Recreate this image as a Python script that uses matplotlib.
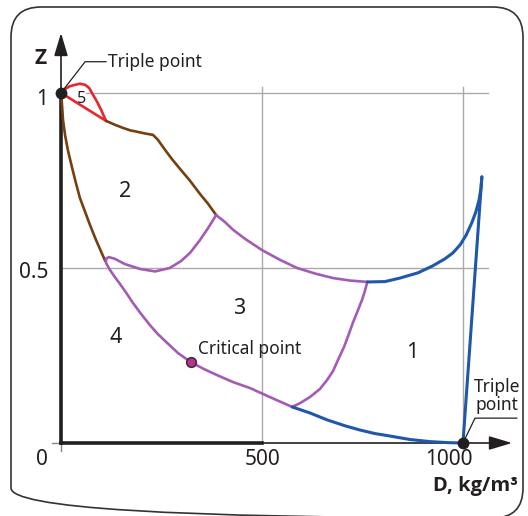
import matplotlib
matplotlib.use("Agg")
import matplotlib.pyplot as plt
from matplotlib.patches import FancyBboxPatch

plt.rcParams["font.family"] = ["Noto Sans", "DejaVu Sans"]

# density D (kg/m3) and compressibility Z
red_dome_d = [0, 10, 22, 35, 47, 60, 70, 80, 90, 100, 112]
red_dome_z = [1.0, 1.011, 1.019, 1.023, 1.026, 1.023, 1.014, 0.994, 0.974, 0.951, 0.92]
red_chord_d = [0, 112]
red_chord_z = [1.0, 0.92]

brown_top_d = [112, 134, 154, 172, 189, 209, 229, 241, 259, 276, 296, 321, 346, 366, 386]
brown_top_z = [0.92, 0.909, 0.9, 0.893, 0.889, 0.884, 0.88, 0.866, 0.837, 0.811, 0.783, 0.749, 0.711, 0.683, 0.651]
brown_left_d = [0, 2.5, 5, 10, 17, 27, 37, 47, 60, 72, 87, 100, 110]
brown_left_z = [1.0, 0.966, 0.923, 0.88, 0.837, 0.789, 0.743, 0.7, 0.66, 0.623, 0.58, 0.546, 0.52]

purple_valley_d = [386, 366, 346, 321, 299, 271, 234, 197, 159, 134, 119, 112]
purple_valley_z = [0.651, 0.614, 0.58, 0.543, 0.52, 0.5, 0.49, 0.497, 0.511, 0.526, 0.531, 0.526]
purple_liquid_d = [112, 112, 122, 134, 147, 164, 179, 199, 221, 241, 264, 291, 323, 356, 388, 428, 470, 520, 575]
purple_liquid_z = [0.526, 0.514, 0.494, 0.474, 0.454, 0.426, 0.4, 0.369, 0.337, 0.311, 0.286, 0.257, 0.231, 0.211, 0.194, 0.174, 0.157, 0.131, 0.103]
purple_upper_d = [386, 408, 428, 458, 500, 545, 587, 632, 677, 719, 762]
purple_upper_z = [0.651, 0.631, 0.609, 0.583, 0.551, 0.523, 0.5, 0.484, 0.471, 0.464, 0.46]
purple_right_d = [575, 595, 619, 644, 662, 677, 689, 704, 716, 726, 739, 749, 756, 762]
purple_right_z = [0.103, 0.114, 0.131, 0.154, 0.18, 0.206, 0.237, 0.274, 0.311, 0.343, 0.38, 0.409, 0.434, 0.46]

blue_bottom_d = [575, 619, 662, 707, 744, 781, 818, 868, 918, 963, 1000]
blue_bottom_z = [0.103, 0.086, 0.066, 0.049, 0.037, 0.027, 0.02, 0.01, 0.004, 0.001, 0.0]
blue_top_d = [762, 806, 843, 888, 925, 955, 975, 993, 1008, 1022, 1032, 1040, 1045, 1047]
blue_top_z = [0.46, 0.461, 0.471, 0.486, 0.506, 0.526, 0.543, 0.566, 0.594, 0.629, 0.66, 0.694, 0.729, 0.76]
blue_steep_d = [1000, 1047]
blue_steep_z = [0.0, 0.76]

triple_d = [0, 1000]
triple_z = [1.0, 0.0]
critical_d = [323]
critical_z = [0.231]

x_ticks = [500, 1000]
y_ticks = [0.5, 1.0]
region_labels = ["1", "2", "3", "4", "5"]

RED = "#e8262b"
BROWN = "#75400f"
PURPLE = "#a35bb3"
BLUE = "#1f58a8"
GRID = "#aaaaaa"
INK = "#231f20"
BOLD_FONT = ["Open Sans", "DejaVu Sans"]


def main() -> None:
    fig = plt.figure(figsize=(5.28, 5.16), dpi=100)

    frame = fig.add_axes([0, 0, 1, 1])
    frame.set_xlim(0, 528)
    frame.set_ylim(516, 0)
    frame.axis("off")
    frame.add_patch(FancyBboxPatch((11, 7), 512, 511, boxstyle="round,pad=0,rounding_size=30",
                                   fill=False, lw=1.2, ec="#333333"))

    ax = fig.add_axes([61 / 528, 73 / 516, 451 / 528, 410 / 516])
    ax.set_xlim(0, 1122)
    ax.set_ylim(0, 1.171)
    ax.axis("off")

    # grid
    for xv in x_ticks:
        ax.plot([xv, xv], [0, 1.017], color=GRID, lw=1.0, zorder=1, clip_on=False)
    ax.plot([62, 1062], [1.0, 1.0], color=GRID, lw=1.0, zorder=1, clip_on=False)
    ax.plot([0, 1062], [0.5, 0.5], color=GRID, lw=1.0, zorder=1, clip_on=False)

    # axes with arrows
    ax.plot([-22, 0], [0, 0], color="#888888", lw=1.0, zorder=2, clip_on=False)
    ax.plot([0, 0], [-0.022, 0], color="#888888", lw=1.0, zorder=2, clip_on=False)
    arrow = dict(arrowstyle="-|>,head_length=1.4,head_width=0.42", lw=1.2, color=INK,
                 shrinkA=0, shrinkB=0, mutation_scale=10)
    ax.annotate("", xy=(1122, 0), xytext=(500, 0), arrowprops=arrow, zorder=2, annotation_clip=False)
    ax.annotate("", xy=(0, 1.171), xytext=(0, 1.0), arrowprops=arrow, zorder=2, annotation_clip=False)
    ax.plot([0, 500], [0, 0], color=INK, lw=2.6, solid_capstyle="projecting", zorder=3, clip_on=False)
    ax.plot([0, 0], [0, 1.0], color=INK, lw=2.6, solid_capstyle="projecting", zorder=3, clip_on=False)

    # phase boundaries
    kw = dict(lw=1.9, solid_joinstyle="round", solid_capstyle="round", zorder=4, clip_on=False)
    ax.plot(red_dome_d, red_dome_z, color=RED, **kw)
    ax.plot(red_chord_d, red_chord_z, color=RED, **kw)
    ax.plot(brown_top_d, brown_top_z, color=BROWN, **kw)
    ax.plot(brown_left_d, brown_left_z, color=BROWN, **kw)
    ax.plot(purple_valley_d, purple_valley_z, color=PURPLE, **kw)
    ax.plot(purple_liquid_d, purple_liquid_z, color=PURPLE, **kw)
    ax.plot(purple_upper_d, purple_upper_z, color=PURPLE, **kw)
    ax.plot(purple_right_d, purple_right_z, color=PURPLE, **kw)
    kw["lw"] = 2.2
    ax.plot(blue_bottom_d, blue_bottom_z, color=BLUE, **kw)
    ax.plot(blue_top_d, blue_top_z, color=BLUE, **kw)
    ax.plot(blue_steep_d, blue_steep_z, color=BLUE, **kw)

    ax.plot(triple_d, triple_z, "o", ms=7.5, color=INK, clip_on=False, zorder=6)
    ax.plot(critical_d, critical_z, "o", ms=7, mfc="#b5348f", mec="#3b2a33", mew=1.1, zorder=6)

    # tick labels
    ax.text(-32, 1.0 - 0.034, "1", ha="right", va="baseline", fontsize=15, color=INK)
    ax.text(-32, 0.5 - 0.029, "0.5", ha="right", va="baseline", fontsize=15, color=INK)
    ax.text(-32, -0.063, "0", ha="right", va="baseline", fontsize=15, color=INK)
    ax.text(x_ticks[0] + 2, -0.063, "500", ha="center", va="baseline", fontsize=15, color=INK)
    ax.text(x_ticks[1] - 35, -0.063, "1000", ha="center", va="baseline", fontsize=15, color=INK)
    ax.text(-52, 1.083, "Z", ha="center", va="baseline", fontsize=15, fontweight="bold",
            family=BOLD_FONT, color=INK)
    ax.text(1137, -0.136, "D, kg/m³", ha="right", va="baseline", fontsize=14.5,
            fontweight="bold", family=BOLD_FONT, color=INK, clip_on=False)

    # annotations
    ax.plot([0, 60, 112], [1.0, 1.089, 1.089], color=INK, lw=0.9, zorder=5, clip_on=False)
    ax.text(117, 1.074, "Triple point", ha="left", va="baseline", fontsize=12.5, color=INK)
    ax.plot([1000, 1030, 1134], [0.0, 0.071, 0.071], color=INK, lw=0.9, zorder=5, clip_on=False)
    ax.text(1085, 0.146, "Triple", ha="center", va="baseline", fontsize=12.5, color=INK)
    ax.text(1085, 0.094, "point", ha="center", va="baseline", fontsize=12.5, color=INK)
    ax.text(341, 0.254, "Critical point", ha="left", va="baseline", fontsize=12.5, color=INK)

    # region numbers
    region_pos = {"1": (873, 0.243), "2": (159, 0.703), "3": (443, 0.369), "4": (137, 0.286), "5": (50, 0.971)}
    for lab in region_labels:
        xx, yy = region_pos[lab]
        ax.text(xx, yy, lab, ha="center", va="baseline", fontsize=11.5 if lab == "5" else 15.5, color=INK,
                zorder=7)

    fig.savefig("out.png", dpi=100)
    plt.close(fig)


if __name__ == "__main__":
    main()
